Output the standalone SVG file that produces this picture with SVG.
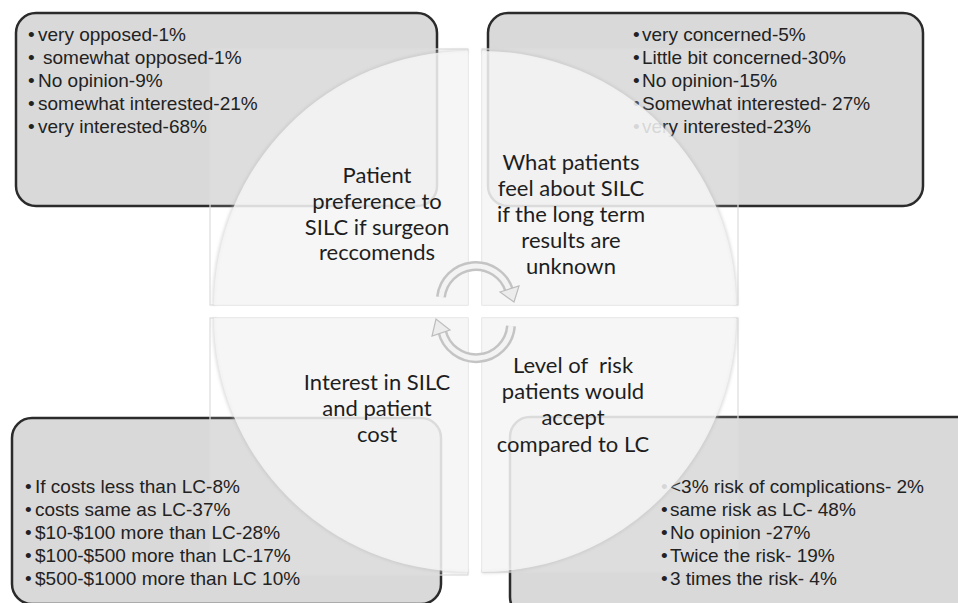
<svg xmlns="http://www.w3.org/2000/svg" width="958" height="603" viewBox="0 0 958 603">
<style>
.box{fill:#d9d9da;stroke:#2b2b2b;stroke-width:2.5}
.sq{fill:#ffffff;fill-opacity:0.12;stroke:#dcdcdc;stroke-width:1.2}
.disc{fill:#f4f4f4;fill-opacity:0.86}
.rim{fill:none;stroke:#bdbdbd;stroke-width:3;stroke-opacity:0.55;filter:url(#blur)}
.bt{font-family:"Liberation Sans",Arial,sans-serif;font-size:19px;fill:#222}
.lbl{font-family:Lato,"Open Sans",sans-serif;font-size:22px;fill:#1e1e1e;text-anchor:middle}
.arr{fill:none;stroke:#c4c4c4;stroke-width:10}
.arrIn{fill:none;stroke:#f3f3f3;stroke-width:5}
.head{fill:#ececec;stroke:#bcbcbc;stroke-width:1.2}
</style>
<defs>
<filter id="blur" x="-10%" y="-10%" width="120%" height="120%"><feGaussianBlur stdDeviation="1.5"/></filter>
</defs>
<rect width="958" height="603" fill="#ffffff"/>

<g id="box-tl"><rect class="box" x="16" y="13" width="421" height="193" rx="20"/></g>
<g id="box-tr"><rect class="box" x="488" y="13" width="435" height="193" rx="20"/></g>
<g id="box-bl"><rect class="box" x="12" y="418" width="429" height="186" rx="20"/></g>
<g id="box-br"><rect class="box" x="510" y="417" width="470" height="200" rx="20"/></g>

<g id="frames">
<rect class="sq" x="210" y="49" width="258" height="256"/>
<rect class="sq" x="482" y="49" width="256" height="256"/>
<rect class="sq" x="210" y="318" width="258" height="257"/>
<rect class="sq" x="482" y="318" width="256" height="254"/>
</g>

<g id="box-text-tl" class="bt">
<text><tspan x="28" y="41">•</tspan><tspan x="38" y="41">very opposed-1%</tspan></text>
<text><tspan x="28" y="64">•</tspan><tspan x="43" y="64">somewhat opposed-1%</tspan></text>
<text><tspan x="28" y="87">•</tspan><tspan x="38" y="87">No opinion-9%</tspan></text>
<text><tspan x="28" y="110">•</tspan><tspan x="38" y="110">somewhat interested-21%</tspan></text>
<text><tspan x="28" y="133">•</tspan><tspan x="38" y="133">very interested-68%</tspan></text>
</g>
<g id="box-text-tr" class="bt">
<text><tspan x="633" y="41">•</tspan><tspan x="642" y="41">very concerned-5%</tspan></text>
<text><tspan x="633" y="64">•</tspan><tspan x="642" y="64">Little bit concerned-30%</tspan></text>
<text><tspan x="633" y="87">•</tspan><tspan x="642" y="87">No opinion-15%</tspan></text>
<text><tspan x="633" y="110">•</tspan><tspan x="642" y="110">Somewhat interested- 27%</tspan></text>
<text><tspan x="633" y="133">•</tspan><tspan x="642" y="133">very interested-23%</tspan></text>
</g>
<g id="box-text-bl" class="bt">
<text><tspan x="25" y="493">•</tspan><tspan x="35" y="493">If costs less than LC-8%</tspan></text>
<text><tspan x="25" y="516">•</tspan><tspan x="35" y="516">costs same as LC-37%</tspan></text>
<text><tspan x="25" y="539">•</tspan><tspan x="35" y="539">$10-$100 more than LC-28%</tspan></text>
<text><tspan x="25" y="562">•</tspan><tspan x="35" y="562">$100-$500 more than LC-17%</tspan></text>
<text><tspan x="25" y="585">•</tspan><tspan x="35" y="585">$500-$1000 more than LC 10%</tspan></text>
</g>
<g id="box-text-br" class="bt">
<text><tspan x="661" y="493">•</tspan><tspan x="670" y="493">&lt;3% risk of complications- 2%</tspan></text>
<text><tspan x="661" y="516">•</tspan><tspan x="670" y="516">same risk as LC- 48%</tspan></text>
<text><tspan x="661" y="539">•</tspan><tspan x="670" y="539">No opinion -27%</tspan></text>
<text><tspan x="661" y="562">•</tspan><tspan x="670" y="562">Twice the risk- 19%</tspan></text>
<text><tspan x="661" y="585">•</tspan><tspan x="670" y="585">3 times the risk- 4%</tspan></text>
</g>

<g id="q-tl">
<path class="rim" d="M214,305 A254,254 0 0 1 468,51"/>
<path class="disc" d="M468,305 L214,305 A254,254 0 0 1 468,51 Z"/>
<text class="lbl"><tspan x="377" y="183">Patient</tspan><tspan x="377" y="209">preference to</tspan><tspan x="377" y="235">SILC if surgeon</tspan><tspan x="377" y="260">reccomends</tspan></text>
</g>
<g id="q-tr">
<path class="rim" d="M482,51 A254,254 0 0 1 736,305"/>
<path class="disc" d="M482,305 L482,51 A254,254 0 0 1 736,305 Z"/>
<text class="lbl"><tspan x="571" y="170">What patients</tspan><tspan x="571" y="196">feel about SILC</tspan><tspan x="571" y="222">if the long term</tspan><tspan x="571" y="248">results are</tspan><tspan x="571" y="274">unknown</tspan></text>
</g>
<g id="q-bl">
<path class="rim" d="M468,572 A254,254 0 0 1 214,318"/>
<path class="disc" d="M468,318 L468,572 A254,254 0 0 1 214,318 Z"/>
<text class="lbl"><tspan x="377" y="390">Interest in SILC</tspan><tspan x="377" y="416">and patient</tspan><tspan x="377" y="442">cost</tspan></text>
</g>
<g id="q-br">
<path class="rim" d="M736,318 A254,254 0 0 1 482,572"/>
<path class="disc" d="M482,318 L736,318 A254,254 0 0 1 482,572 Z"/>
<text class="lbl" style="white-space:pre"><tspan x="573" y="373">Level of  risk</tspan><tspan x="573" y="399">patients would</tspan><tspan x="573" y="425">accept</tspan><tspan x="573" y="452">compared to LC</tspan></text>
</g>

<g id="connectors">
<path class="arr" d="M441,297 A35,35 0 0 1 509,290"/>
<path class="arrIn" d="M441,297 A35,35 0 0 1 509,290"/>
<polygon class="head" points="500,292 519,286 514,302"/>
<path class="arr" d="M511,326 A35,35 0 0 1 442,331"/>
<path class="arrIn" d="M511,326 A35,35 0 0 1 442,331"/>
<polygon class="head" points="450,330 432,336 436,319"/>
</g>
</svg>
